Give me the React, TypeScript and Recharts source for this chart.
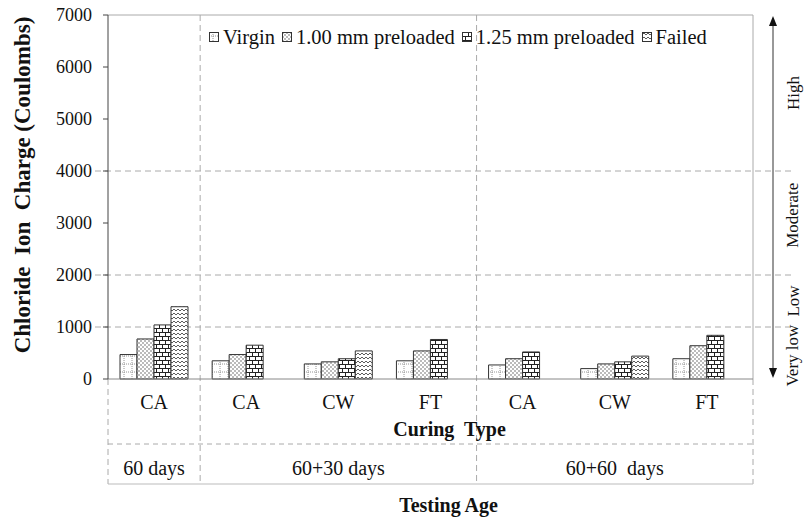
import React from 'react';
import { BarChart, Bar, XAxis, YAxis, Legend, ReferenceLine } from 'recharts';

// readings (Coulombs); null = no specimen for that case
const CATEGORIES = ['CA', 'CA', 'CW', 'FT', 'CA', 'CW', 'FT'];
const VIRGIN = [470, 350, 290, 350, 270, 200, 390];
const PRE_100 = [770, 470, 330, 540, 390, 290, 640];
const PRE_125 = [1040, 650, 390, 760, 520, 330, 840];
const FAILED = [1390, null, 540, null, null, 440, null];

const GROUP_LABELS = ['60 days', '60+30 days', '60+60\u00a0 days'];
const GROUP_SIZES = [1, 3, 3];

const Y_TICKS = [0, 1000, 2000, 3000, 4000, 5000, 6000, 7000];
const GUIDE_VALUES = [1000, 2000, 4000];
const CLASS_LABELS = ['High', 'Moderate', 'Low', 'Very low'];
const CLASS_VALUES = [5500, 3150, 1500, 450];

const SERIES = [
  { key: 'virgin', name: 'Virgin', pat: 'patVirgin' },
  { key: 'pre100', name: '1.00 mm preloaded', pat: 'patPre100' },
  { key: 'pre125', name: '1.25 mm preloaded', pat: 'patPre125' },
  { key: 'failed', name: 'Failed', pat: 'patFailed' },
];

const data = CATEGORIES.map((name, i) => ({
  id: `c${i}`,
  name,
  virgin: VIRGIN[i],
  pre100: PRE_100[i],
  pre125: PRE_125[i],
  failed: FAILED[i],
}));
const ids = data.map((d) => d.id);

// first category index of each group, and the middle category (group sizes are odd)
const groupStarts = GROUP_SIZES.map((_, i) => GROUP_SIZES.slice(0, i).reduce((a, b) => a + b, 0));
const groupMiddles = groupStarts.map((s, i) => ids[s + (GROUP_SIZES[i] - 1) / 2]);

const FONT = 'Liberation Serif, Times New Roman, serif';
const W = 805;
const H = 522;
const CAT_AXIS_H = 65;
const GRP_AXIS_H = 40;
const TITLE_AXIS_H = 38;
const RIGHT_GUTTER = 52;
const GRID = '#aaaaaa';

const YTitle = (props: any) => {
  const vb = props.viewBox || { x: 0, y: 0, width: 0, height: 0 };
  const x = vb.x + 22;
  const y = vb.y + vb.height / 2 - 12;
  return (
    <text
      x={x}
      y={y}
      transform={`rotate(-90 ${x} ${y})`}
      textAnchor="middle"
      dominantBaseline="central"
      fontFamily={FONT}
      fontSize={23}
      fontWeight="bold"
      fill="#111"
      style={{ whiteSpace: 'pre' }}
    >
      Chloride  Ion  Charge (Coulombs)
    </text>
  );
};

const LegendRow = () => (
  <div
    style={{
      display: 'flex',
      alignItems: 'center',
      fontFamily: FONT,
      fontSize: 20.5,
      color: '#111',
      whiteSpace: 'nowrap',
      lineHeight: '22px',
    }}
  >
    {SERIES.map((s) => (
      <span key={s.key} style={{ display: 'flex', alignItems: 'center', marginRight: 7 }}>
        <svg width={10} height={10} style={{ marginRight: 4 }}>
          <rect x={0.5} y={0.5} width={9} height={9} fill={`url(#${s.pat})`} stroke="#333" />
        </svg>
        {s.name}
      </span>
    ))}
  </div>
);

// dashed separator between testing ages; inner ones run through the plot too
const separator = (full: boolean) => (p: any) => {
  const top = Math.min(p.y1, p.y2);
  const bottom = Math.max(p.y1, p.y2);
  return (
    <line
      x1={p.x1}
      x2={p.x2}
      y1={full ? top : bottom}
      y2={bottom + CAT_AXIS_H + GRP_AXIS_H}
      stroke={GRID}
      strokeWidth={1}
      strokeDasharray="6 4"
    />
  );
};

const arrow = (p: any) => {
  const x = p.x1 + 20;
  const top = Math.min(p.y1, p.y2) + 1;
  const bottom = Math.max(p.y1, p.y2) - 1;
  return (
    <g>
      <line x1={x} x2={x} y1={top + 8} y2={bottom - 8} stroke="#333" strokeWidth={1} />
      <polygon points={`${x},${top} ${x - 4},${top + 10} ${x + 4},${top + 10}`} fill="#111" />
      <polygon points={`${x},${bottom} ${x - 4},${bottom - 10} ${x + 4},${bottom - 10}`} fill="#111" />
    </g>
  );
};

// rotated class name in the right gutter, at the level of its value
const classLabel = (label: string) => (p: any) => {
  const x = Math.max(p.x1, p.x2) + 40;
  const y = p.y1;
  return (
    <text
      x={x}
      y={y}
      transform={`rotate(-90 ${x} ${y})`}
      textAnchor="middle"
      dominantBaseline="central"
      fontFamily={FONT}
      fontSize={17}
      fill="#111"
    >
      {label}
    </text>
  );
};

export default function App() {
  const last = ids[ids.length - 1];
  return (
    <div style={{ position: 'absolute', left: 0, top: 0, width: W, height: H, background: '#fff' }}>
      <BarChart
        width={W}
        height={H}
        data={data}
        margin={{ top: 15, right: RIGHT_GUTTER, bottom: 0, left: 0 }}
        barSize={17}
        barGap={0}
        style={{ fontFamily: FONT }}
      >
        <defs>
          <pattern id="patVirgin" width={8} height={8} patternUnits="userSpaceOnUse">
            <rect width={8} height={8} fill="#fff" />
            <path d="M4 0 V8 M0 4 H8" stroke="#777" strokeWidth={0.8} strokeDasharray="1 1" />
          </pattern>
          <pattern id="patPre100" width={4} height={4} patternUnits="userSpaceOnUse">
            <rect width={4} height={4} fill="#fff" />
            <circle cx={1} cy={1} r={0.7} fill="#444" />
            <circle cx={3} cy={3} r={0.7} fill="#444" />
          </pattern>
          <pattern id="patPre125" width={6} height={8} patternUnits="userSpaceOnUse">
            <rect width={6} height={8} fill="#fff" />
            <path d="M0 0.5 H6 M0 4.5 H6 M0.5 0.5 V4.5 M3.5 4.5 V8" stroke="#222" strokeWidth={1} />
          </pattern>
          <pattern id="patFailed" width={4} height={4} patternUnits="userSpaceOnUse">
            <rect width={4} height={4} fill="#fff" />
            <path d="M0 3 L2 1 L4 3" stroke="#333" strokeWidth={0.8} fill="none" />
          </pattern>
        </defs>

        <XAxis
          dataKey="id"
          height={CAT_AXIS_H}
          tickFormatter={(v: string) => CATEGORIES[ids.indexOf(v)]}
          tick={{ fontSize: 20, fill: '#111', fontFamily: FONT }}
          tickLine={false}
          tickSize={0}
          tickMargin={16}
          interval={0}
          axisLine={{ stroke: '#888' }}
          label={{
            value: 'Curing\u00a0 Type',
            position: 'insideBottom',
            offset: 8,
            dx: 19,
            fontSize: 20,
            fontWeight: 'bold',
            fill: '#111',
            fontFamily: FONT,
          }}
        />
        <XAxis
          xAxisId="grp"
          dataKey="id"
          height={GRP_AXIS_H}
          interval={0}
          tickFormatter={(v: string) => {
            const g = groupMiddles.indexOf(v);
            return g >= 0 ? GROUP_LABELS[g] : '';
          }}
          tick={{ fontSize: 20, fill: '#111', fontFamily: FONT }}
          tickLine={false}
          tickSize={0}
          tickMargin={17}
          axisLine={{ stroke: GRID, strokeDasharray: '5 4' }}
        />
        <XAxis
          xAxisId="title"
          dataKey="id"
          height={TITLE_AXIS_H}
          tick={false}
          tickLine={false}
          axisLine={{ stroke: '#bbb' }}
          label={{
            value: 'Testing Age',
            position: 'insideBottom',
            offset: 10,
            dx: 18,
            fontSize: 20,
            fontWeight: 'bold',
            fill: '#111',
            fontFamily: FONT,
          }}
        />
        <YAxis
          width={108}
          domain={[0, 7000]}
          ticks={Y_TICKS}
          interval={0}
          tick={{ fontSize: 18, fill: '#111', fontFamily: FONT }}
          tickSize={5}
          tickMargin={11}
          tickLine={{ stroke: '#444' }}
          axisLine={{ stroke: '#444' }}
          label={<YTitle />}
        />

        {GUIDE_VALUES.map((v) => (
          <ReferenceLine
            key={`g${v}`}
            y={v}
            zIndex={-100}
            shape={(p: any) => (
              <line
                x1={Math.min(p.x1, p.x2) - 13}
                x2={W - 10}
                y1={p.y1}
                y2={p.y2}
                stroke={GRID}
                strokeWidth={1}
                strokeDasharray="6 4"
              />
            )}
          />
        ))}
        <ReferenceLine y={7000} stroke="#aaa" />
        <ReferenceLine x={last} xAxisId="grp" position="end" stroke="#aaa" />

        {groupStarts.map((s, i) => (
          <ReferenceLine
            key={`s${i}`}
            x={ids[s]}
            xAxisId="grp"
            position="start"
            shape={separator(i > 0)}
          />
        ))}
        <ReferenceLine x={last} xAxisId="grp" position="end" shape={separator(false)} />

        {/* double-headed classification arrow and class names */}
        <ReferenceLine x={last} xAxisId="grp" position="end" shape={arrow} />
        {CLASS_VALUES.map((v, i) => (
          <ReferenceLine key={`cl${v}`} y={v} shape={classLabel(CLASS_LABELS[i])} />
        ))}

        <Legend
          layout="vertical"
          align="center"
          verticalAlign="middle"
          wrapperStyle={{ top: 26, left: 209, width: 'auto' }}
          content={<LegendRow />}
        />

        {SERIES.map((s) => (
          <Bar
            key={s.key}
            dataKey={s.key}
            name={s.name}
            fill={`url(#${s.pat})`}
            stroke="#333"
            strokeWidth={1}
            isAnimationActive={false}
          />
        ))}
      </BarChart>
    </div>
  );
}
